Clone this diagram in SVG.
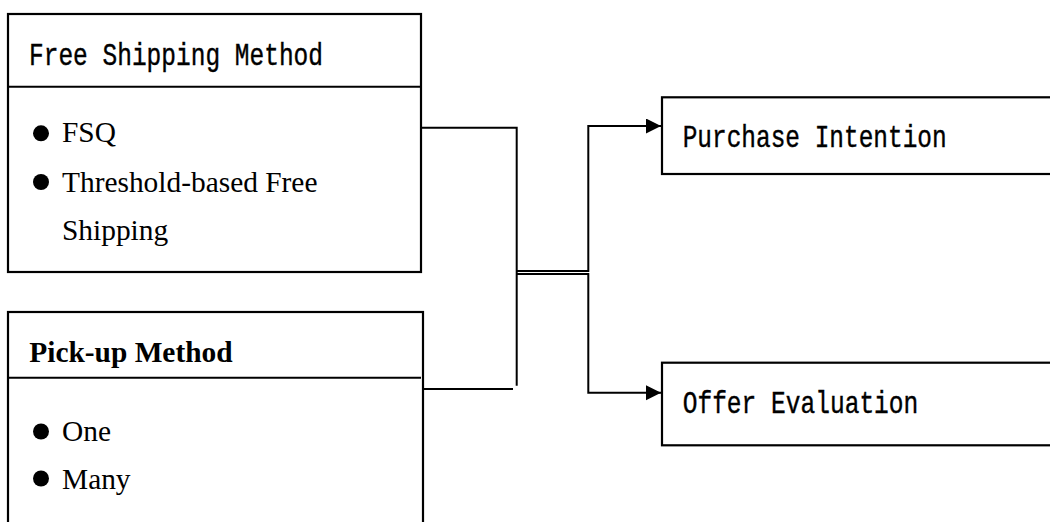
<svg xmlns="http://www.w3.org/2000/svg" width="1050" height="522" viewBox="0 0 1050 522">
<style>
.box{fill:#fff;stroke:#000;stroke-width:2.2}
.div{stroke:#000;stroke-width:2}
.mono{font-family:"Liberation Mono","DejaVu Sans Mono",monospace;font-size:32px;fill:#000;stroke:#000;stroke-width:0.4}
.tnr{font-family:"Liberation Serif","Times New Roman",serif;font-size:29.4px;fill:#000}
.bold{font-weight:bold}
.con{fill:none;stroke:#000;stroke-width:2}
</style>
<defs>
<marker id="arr" markerUnits="userSpaceOnUse" markerWidth="16" markerHeight="16" refX="15" refY="7.5" orient="auto">
<path d="M0,0 L15,7.5 L0,15 Z" fill="#000"/>
</marker>
</defs>
<rect width="1050" height="522" fill="#fff"/>
<g id="connectors">
<path class="con" d="M421,127.7 H516.7 V385.7"/>
<path class="con" d="M423,389 H513"/>
<path class="con" d="M516.7,271 H588.3 V126 H661" marker-end="url(#arr)"/>
<path class="con" d="M516.7,274 H588.3 V392.7 H661" marker-end="url(#arr)"/>
</g>
<g id="free-shipping">
<rect class="box" x="8" y="14" width="413" height="258"/>
<line class="div" x1="8" y1="86.7" x2="421" y2="86.7"/>
<text class="mono" x="29" y="65" textLength="294" lengthAdjust="spacingAndGlyphs">Free Shipping Method</text>
<circle cx="41" cy="133.3" r="8"/>
<text class="tnr" x="62" y="141.7">FSQ</text>
<circle cx="41" cy="182" r="8"/>
<text class="tnr" x="62" y="191.5">Threshold-based Free</text>
<text class="tnr" x="62" y="240">Shipping</text>
</g>
<g id="pickup">
<rect class="box" x="8" y="312" width="415" height="230"/>
<line class="div" x1="7" y1="377.7" x2="421" y2="377.7"/>
<text class="tnr bold" x="29.3" y="361.7">Pick-up Method</text>
<circle cx="41" cy="431.5" r="8"/>
<text class="tnr" x="62" y="441">One</text>
<circle cx="41" cy="478.5" r="8"/>
<text class="tnr" x="62" y="488.5">Many</text>
</g>
<g id="purchase-intention">
<rect class="box" x="662" y="97.3" width="400" height="76.7"/>
<text class="mono" x="682.7" y="146.7" textLength="264" lengthAdjust="spacingAndGlyphs">Purchase Intention</text>
</g>
<g id="offer-evaluation">
<rect class="box" x="662" y="362.7" width="400" height="82.6"/>
<text class="mono" x="682.7" y="413" textLength="235.6" lengthAdjust="spacingAndGlyphs">Offer Evaluation</text>
</g>
</svg>
